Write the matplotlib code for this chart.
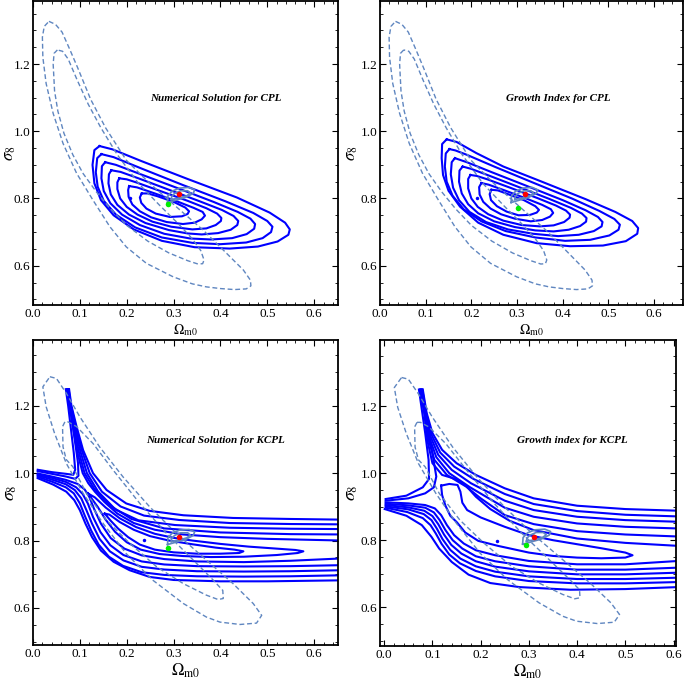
import matplotlib.pyplot as plt
from matplotlib.ticker import MultipleLocator, FormatStrFormatter

# ---------------- data ----------------
# observational contours (dashed), top row (CPL panels)
obs_cpl_outer = [(0.034, 1.327), (0.048, 1.318), (0.062, 1.295), (0.078, 1.245), (0.095, 1.190),
                 (0.123, 1.095), (0.155, 1.010), (0.199, 0.914), (0.249, 0.845), (0.306, 0.775),
                 (0.363, 0.706), (0.413, 0.637), (0.449, 0.587), (0.464, 0.557), (0.465, 0.540),
                 (0.455, 0.531), (0.430, 0.529), (0.400, 0.532), (0.370, 0.537), (0.340, 0.546),
                 (0.299, 0.567), (0.242, 0.607), (0.199, 0.656), (0.164, 0.716), (0.128, 0.795),
                 (0.093, 0.875), (0.064, 0.964), (0.043, 1.053), (0.028, 1.142), (0.021, 1.220),
                 (0.020, 1.280), (0.024, 1.312)]
obs_cpl_inner = [(0.052, 1.242), (0.045, 1.232), (0.043, 1.200), (0.046, 1.120), (0.053, 1.060),
                 (0.066, 0.994), (0.085, 0.930), (0.107, 0.874), (0.135, 0.820), (0.165, 0.770),
                 (0.200, 0.720), (0.245, 0.673), (0.290, 0.638), (0.330, 0.615), (0.352, 0.605),
                 (0.362, 0.606), (0.365, 0.617), (0.358, 0.645), (0.340, 0.680), (0.310, 0.725),
                 (0.270, 0.780), (0.225, 0.845), (0.180, 0.930), (0.145, 1.010), (0.118, 1.080),
                 (0.095, 1.150), (0.075, 1.215), (0.063, 1.238)]
# observational contours (dashed), bottom row (KCPL panels)
obs_kcpl_outer = [(0.036, 1.286), (0.050, 1.281), (0.071, 1.237), (0.100, 1.167), (0.142, 1.078),
                  (0.192, 0.989), (0.249, 0.900), (0.306, 0.821), (0.370, 0.742), (0.427, 0.672),
                  (0.470, 0.613), (0.488, 0.578), (0.477, 0.555), (0.442, 0.551), (0.399, 0.558),
                  (0.370, 0.573), (0.321, 0.613), (0.256, 0.682), (0.199, 0.761), (0.150, 0.850),
                  (0.107, 0.940), (0.071, 1.029), (0.046, 1.118), (0.028, 1.197), (0.021, 1.256)]
obs_kcpl_inner = [(0.068, 1.152), (0.063, 1.138), (0.064, 1.078), (0.071, 1.040), (0.085, 1.019),
                  (0.114, 0.940), (0.157, 0.860), (0.207, 0.791), (0.264, 0.722), (0.321, 0.672),
                  (0.370, 0.638), (0.395, 0.625), (0.406, 0.628), (0.405, 0.652), (0.385, 0.682),
                  (0.342, 0.742), (0.285, 0.821), (0.228, 0.910), (0.171, 1.009), (0.128, 1.088),
                  (0.093, 1.138), (0.075, 1.152)]

# small solid contours around the red point
loop_outer = [(0.287, 0.788), (0.305, 0.795), (0.325, 0.803), (0.342, 0.815), (0.345, 0.826),
              (0.333, 0.833), (0.313, 0.831), (0.297, 0.822), (0.288, 0.808)]
loop_inner = [(0.295, 0.797), (0.310, 0.801), (0.328, 0.808), (0.336, 0.816), (0.330, 0.823),
              (0.315, 0.823), (0.302, 0.815), (0.296, 0.806)]

# numerical solution, CPL (closed contours, outer -> inner)
num_cpl = [
    [(0.142, 0.956), (0.131, 0.944), (0.127, 0.900), (0.131, 0.845), (0.145, 0.795), (0.172, 0.750),
     (0.215, 0.708), (0.275, 0.674), (0.345, 0.655), (0.420, 0.651), (0.480, 0.657), (0.522, 0.672),
     (0.545, 0.692), (0.548, 0.708), (0.538, 0.728), (0.505, 0.758), (0.435, 0.803), (0.330, 0.858),
     (0.230, 0.912), (0.170, 0.946)],
    [(0.146, 0.932), (0.137, 0.920), (0.134, 0.878), (0.138, 0.835), (0.151, 0.793), (0.177, 0.752),
     (0.218, 0.714), (0.275, 0.684), (0.340, 0.668), (0.400, 0.664), (0.455, 0.669), (0.490, 0.682),
     (0.508, 0.700), (0.511, 0.716), (0.500, 0.733), (0.470, 0.757), (0.410, 0.792), (0.320, 0.840),
     (0.230, 0.890), (0.172, 0.923)],
    [(0.154, 0.908), (0.147, 0.896), (0.146, 0.860), (0.151, 0.822), (0.165, 0.786), (0.190, 0.752),
     (0.228, 0.721), (0.280, 0.695), (0.335, 0.681), (0.380, 0.678), (0.425, 0.682), (0.456, 0.694),
     (0.472, 0.710), (0.474, 0.724), (0.464, 0.740), (0.437, 0.760), (0.385, 0.790), (0.310, 0.830),
     (0.230, 0.872), (0.177, 0.900)],
    [(0.167, 0.884), (0.162, 0.872), (0.161, 0.845), (0.166, 0.812), (0.180, 0.781), (0.205, 0.752),
     (0.240, 0.727), (0.290, 0.706), (0.330, 0.696), (0.360, 0.693), (0.395, 0.697), (0.422, 0.707),
     (0.436, 0.721), (0.438, 0.733), (0.428, 0.748), (0.403, 0.766), (0.355, 0.792), (0.290, 0.826),
     (0.225, 0.860), (0.187, 0.879)],
    [(0.184, 0.860), (0.180, 0.848), (0.180, 0.828), (0.186, 0.800), (0.200, 0.775), (0.223, 0.752),
     (0.255, 0.731), (0.295, 0.716), (0.340, 0.708), (0.370, 0.711), (0.390, 0.721), (0.401, 0.733),
     (0.402, 0.742), (0.393, 0.755), (0.370, 0.771), (0.330, 0.793), (0.270, 0.823), (0.220, 0.848),
     (0.200, 0.857)],
    [(0.205, 0.837), (0.203, 0.825), (0.204, 0.805), (0.212, 0.782), (0.228, 0.762), (0.252, 0.744),
     (0.285, 0.730), (0.320, 0.724), (0.345, 0.728), (0.360, 0.738), (0.367, 0.749), (0.362, 0.760),
     (0.343, 0.772), (0.310, 0.790), (0.260, 0.815), (0.222, 0.833)],
    [(0.232, 0.815), (0.228, 0.803), (0.231, 0.787), (0.242, 0.770), (0.262, 0.755), (0.292, 0.745),
     (0.318, 0.747), (0.330, 0.754), (0.333, 0.762), (0.325, 0.773), (0.300, 0.790), (0.265, 0.807),
     (0.245, 0.815)],
]

# growth index, CPL
gi_cpl = [
    [(0.146, 0.976), (0.136, 0.962), (0.135, 0.920), (0.138, 0.870), (0.150, 0.823), (0.175, 0.776),
     (0.215, 0.728), (0.270, 0.692), (0.343, 0.667), (0.416, 0.658), (0.488, 0.660), (0.538, 0.673),
     (0.563, 0.695), (0.565, 0.712), (0.552, 0.733), (0.515, 0.760), (0.450, 0.798), (0.343, 0.856),
     (0.270, 0.895), (0.211, 0.935), (0.168, 0.968)],
    [(0.152, 0.947), (0.144, 0.934), (0.142, 0.895), (0.146, 0.850), (0.159, 0.808), (0.183, 0.768),
     (0.222, 0.732), (0.275, 0.703), (0.340, 0.684), (0.405, 0.674), (0.460, 0.677), (0.502, 0.690),
     (0.522, 0.707), (0.525, 0.722), (0.513, 0.739), (0.480, 0.763), (0.420, 0.800), (0.330, 0.850),
     (0.250, 0.895), (0.190, 0.930), (0.165, 0.943)],
    [(0.164, 0.920), (0.157, 0.908), (0.155, 0.872), (0.160, 0.832), (0.173, 0.795), (0.196, 0.760),
     (0.232, 0.730), (0.280, 0.708), (0.335, 0.695), (0.390, 0.688), (0.435, 0.692), (0.468, 0.703),
     (0.485, 0.717), (0.487, 0.730), (0.477, 0.745), (0.450, 0.765), (0.400, 0.795), (0.320, 0.838),
     (0.245, 0.878), (0.190, 0.908)],
    [(0.181, 0.895), (0.174, 0.883), (0.173, 0.850), (0.179, 0.815), (0.193, 0.783), (0.215, 0.756),
     (0.250, 0.732), (0.295, 0.715), (0.340, 0.705), (0.380, 0.702), (0.413, 0.707), (0.438, 0.718),
     (0.451, 0.731), (0.452, 0.742), (0.442, 0.755), (0.418, 0.772), (0.370, 0.799), (0.300, 0.836),
     (0.235, 0.870), (0.200, 0.888)],
    [(0.198, 0.870), (0.193, 0.858), (0.193, 0.830), (0.200, 0.800), (0.214, 0.775), (0.237, 0.753),
     (0.270, 0.734), (0.310, 0.721), (0.350, 0.717), (0.380, 0.720), (0.403, 0.730), (0.415, 0.743),
     (0.416, 0.752), (0.407, 0.764), (0.385, 0.779), (0.345, 0.801), (0.285, 0.832), (0.235, 0.857),
     (0.212, 0.867)],
    [(0.222, 0.846), (0.217, 0.834), (0.218, 0.812), (0.226, 0.790), (0.242, 0.770), (0.265, 0.753),
     (0.295, 0.740), (0.330, 0.732), (0.355, 0.736), (0.372, 0.746), (0.379, 0.757), (0.374, 0.768),
     (0.355, 0.781), (0.320, 0.800), (0.275, 0.823), (0.238, 0.841)],
    [(0.244, 0.826), (0.240, 0.813), (0.243, 0.795), (0.256, 0.777), (0.277, 0.761), (0.303, 0.750),
     (0.328, 0.751), (0.343, 0.758), (0.348, 0.766), (0.340, 0.777), (0.315, 0.795), (0.280, 0.813),
     (0.258, 0.824)],
]

# numerical solution, KCPL (open curves)
num_kcpl_open = [
    # from the top pinch, bending right
    [(0.077, 1.249), (0.082, 1.200), (0.093, 1.138), (0.107, 1.068), (0.128, 1.000), (0.157, 0.950),
     (0.199, 0.910), (0.249, 0.888), (0.321, 0.875), (0.427, 0.867), (0.550, 0.864), (0.660, 0.862)],
    [(0.076, 1.249), (0.081, 1.200), (0.091, 1.138), (0.104, 1.068), (0.121, 1.000), (0.147, 0.945),
     (0.187, 0.901), (0.237, 0.874), (0.312, 0.861), (0.420, 0.852), (0.550, 0.849), (0.660, 0.848)],
    [(0.075, 1.249), (0.080, 1.200), (0.089, 1.138), (0.101, 1.065), (0.115, 1.000), (0.139, 0.945),
     (0.176, 0.892), (0.225, 0.860), (0.303, 0.846), (0.420, 0.838), (0.550, 0.835), (0.660, 0.834)],
    [(0.074, 1.249), (0.079, 1.200), (0.087, 1.138), (0.098, 1.062), (0.110, 1.000), (0.130, 0.955),
     (0.163, 0.905), (0.210, 0.864), (0.280, 0.836), (0.400, 0.824), (0.550, 0.819), (0.660, 0.818)],
    [(0.073, 1.249), (0.078, 1.200), (0.085, 1.138), (0.095, 1.060), (0.106, 1.000), (0.118, 0.970),
     (0.132, 0.945), (0.152, 0.915), (0.180, 0.880), (0.215, 0.852), (0.260, 0.832), (0.320, 0.818),
     (0.400, 0.810), (0.500, 0.805), (0.660, 0.800)],
    # from the left fan, up into the pinch
    [(0.010, 1.010), (0.040, 1.003), (0.070, 0.998), (0.086, 0.995), (0.090, 1.010), (0.087, 1.060),
     (0.081, 1.130), (0.075, 1.200), (0.070, 1.249)],
    [(0.010, 1.006), (0.040, 0.998), (0.070, 0.990), (0.090, 0.983), (0.097, 0.992), (0.096, 1.030),
     (0.089, 1.100), (0.080, 1.190), (0.072, 1.249)],
    # from the left fan, down and right
    [(0.010, 0.999), (0.040, 0.990), (0.070, 0.980), (0.095, 0.968), (0.110, 0.952), (0.120, 0.930),
     (0.130, 0.895), (0.145, 0.850), (0.166, 0.807), (0.195, 0.776), (0.232, 0.756), (0.280, 0.745),
     (0.350, 0.738), (0.450, 0.736), (0.550, 0.740), (0.660, 0.747)],
    [(0.010, 0.996), (0.040, 0.986), (0.070, 0.974), (0.092, 0.958), (0.106, 0.938), (0.117, 0.910),
     (0.128, 0.870), (0.144, 0.825), (0.165, 0.786), (0.193, 0.757), (0.232, 0.738), (0.280, 0.729),
     (0.350, 0.724), (0.450, 0.723), (0.550, 0.724), (0.660, 0.727)],
    [(0.010, 0.993), (0.040, 0.981), (0.070, 0.967), (0.089, 0.950), (0.103, 0.925), (0.114, 0.890),
     (0.126, 0.850), (0.142, 0.805), (0.164, 0.768), (0.193, 0.741), (0.232, 0.722), (0.280, 0.714),
     (0.350, 0.709), (0.450, 0.708), (0.550, 0.709), (0.660, 0.712)],
    [(0.010, 0.989), (0.040, 0.975), (0.070, 0.958), (0.087, 0.940), (0.100, 0.910), (0.111, 0.872),
     (0.124, 0.830), (0.140, 0.788), (0.162, 0.752), (0.192, 0.725), (0.232, 0.706), (0.280, 0.698),
     (0.350, 0.694), (0.450, 0.693), (0.550, 0.694), (0.660, 0.697)],
    [(0.010, 0.985), (0.043, 0.966), (0.071, 0.945), (0.088, 0.920), (0.100, 0.890), (0.112, 0.850),
     (0.126, 0.810), (0.145, 0.770), (0.172, 0.737), (0.206, 0.712), (0.249, 0.692), (0.300, 0.683),
     (0.400, 0.679), (0.500, 0.679), (0.660, 0.682)],
]
num_kcpl_closed = [
    [(0.117, 0.940), (0.132, 0.928), (0.155, 0.898), (0.185, 0.866), (0.220, 0.840), (0.260, 0.820),
     (0.300, 0.808), (0.340, 0.800), (0.400, 0.790), (0.460, 0.782), (0.520, 0.776), (0.560, 0.772),
     (0.577, 0.768), (0.565, 0.763), (0.520, 0.757), (0.450, 0.752), (0.380, 0.751), (0.320, 0.754),
     (0.270, 0.760), (0.230, 0.773), (0.200, 0.795), (0.175, 0.826), (0.155, 0.862), (0.138, 0.900),
     (0.125, 0.925)],
    [(0.153, 0.880), (0.163, 0.877), (0.185, 0.855), (0.215, 0.832), (0.250, 0.813), (0.290, 0.800),
     (0.340, 0.789), (0.390, 0.779), (0.430, 0.773), (0.449, 0.768), (0.440, 0.763), (0.400, 0.761),
     (0.350, 0.761), (0.300, 0.765), (0.260, 0.773), (0.228, 0.788), (0.203, 0.810), (0.182, 0.835),
     (0.165, 0.860)],
]

# growth index, KCPL
gi_kcpl_open = [
    [(0.080, 1.250), (0.088, 1.180), (0.100, 1.120), (0.120, 1.070), (0.150, 1.030), (0.190, 0.995),
     (0.250, 0.955), (0.310, 0.925), (0.400, 0.903), (0.500, 0.893), (0.610, 0.888)],
    [(0.079, 1.250), (0.087, 1.180), (0.098, 1.115), (0.116, 1.062), (0.145, 1.020), (0.185, 0.983),
     (0.250, 0.938), (0.310, 0.908), (0.400, 0.887), (0.500, 0.876), (0.610, 0.871)],
    [(0.078, 1.250), (0.086, 1.180), (0.096, 1.110), (0.112, 1.055), (0.140, 1.010), (0.180, 0.970),
     (0.250, 0.918), (0.310, 0.890), (0.400, 0.870), (0.500, 0.860), (0.610, 0.855)],
    [(0.077, 1.250), (0.085, 1.180), (0.094, 1.105), (0.108, 1.048), (0.135, 1.000), (0.178, 0.958),
     (0.250, 0.897), (0.310, 0.870), (0.400, 0.850), (0.500, 0.840), (0.610, 0.835)],
    [(0.076, 1.250), (0.084, 1.180), (0.092, 1.100), (0.104, 1.040), (0.130, 0.995), (0.170, 0.960),
     (0.200, 0.925), (0.250, 0.875), (0.310, 0.848), (0.400, 0.827), (0.500, 0.817), (0.610, 0.811)],
    [(0.075, 1.250), (0.083, 1.180), (0.090, 1.095), (0.100, 1.030), (0.120, 0.995), (0.150, 0.982),
     (0.170, 0.962), (0.190, 0.930), (0.220, 0.893), (0.260, 0.858), (0.310, 0.830), (0.400, 0.805),
     (0.500, 0.792), (0.610, 0.783)],
    [(0.003, 0.923), (0.046, 0.933), (0.080, 0.958), (0.093, 0.983), (0.092, 1.040), (0.085, 1.120),
     (0.072, 1.250)],
    [(0.003, 0.918), (0.050, 0.925), (0.085, 0.940), (0.103, 0.958), (0.108, 0.990), (0.100, 1.060),
     (0.088, 1.150), (0.074, 1.250)],
    [(0.003, 0.913), (0.050, 0.910), (0.085, 0.905), (0.105, 0.895), (0.118, 0.875), (0.130, 0.845),
     (0.145, 0.815), (0.165, 0.790), (0.190, 0.770), (0.230, 0.755), (0.300, 0.738), (0.400, 0.728),
     (0.500, 0.728), (0.610, 0.738)],
    [(0.003, 0.909), (0.050, 0.904), (0.085, 0.897), (0.103, 0.883), (0.115, 0.860), (0.127, 0.830),
     (0.142, 0.800), (0.162, 0.775), (0.190, 0.752), (0.230, 0.737), (0.300, 0.722), (0.400, 0.712),
     (0.500, 0.712), (0.610, 0.718)],
    [(0.003, 0.905), (0.050, 0.898), (0.083, 0.888), (0.100, 0.872), (0.112, 0.848), (0.124, 0.817),
     (0.139, 0.786), (0.160, 0.760), (0.190, 0.737), (0.230, 0.721), (0.300, 0.707), (0.400, 0.698),
     (0.500, 0.698), (0.610, 0.703)],
    [(0.003, 0.901), (0.050, 0.892), (0.082, 0.878), (0.098, 0.860), (0.109, 0.835), (0.121, 0.803),
     (0.137, 0.771), (0.158, 0.745), (0.190, 0.722), (0.230, 0.706), (0.300, 0.692), (0.400, 0.684),
     (0.500, 0.684), (0.610, 0.688)],
    [(0.003, 0.897), (0.048, 0.884), (0.080, 0.866), (0.096, 0.845), (0.107, 0.820), (0.119, 0.789),
     (0.135, 0.757), (0.157, 0.731), (0.190, 0.708), (0.230, 0.692), (0.300, 0.678), (0.400, 0.671),
     (0.500, 0.671), (0.610, 0.675)],
    [(0.001, 0.893), (0.046, 0.873), (0.078, 0.845), (0.098, 0.810), (0.114, 0.775), (0.140, 0.735),
     (0.175, 0.697), (0.220, 0.672), (0.280, 0.660), (0.386, 0.652), (0.500, 0.654), (0.610, 0.660)],
]
gi_kcpl_closed = [
    [(0.118, 0.963), (0.135, 0.968), (0.152, 0.965), (0.158, 0.945), (0.162, 0.912), (0.172, 0.890),
     (0.200, 0.868), (0.250, 0.840), (0.300, 0.815), (0.350, 0.800), (0.400, 0.788), (0.450, 0.776),
     (0.500, 0.763), (0.515, 0.755), (0.500, 0.748), (0.450, 0.746), (0.400, 0.748), (0.350, 0.753),
     (0.300, 0.763), (0.236, 0.783), (0.195, 0.798), (0.168, 0.823), (0.151, 0.853), (0.137, 0.873),
     (0.127, 0.903), (0.120, 0.935)],
]

# marked points: blue (model best fit), green, red
blue_pts = [(0.207, 0.800), (0.212, 0.800), (0.237, 0.801), (0.234, 0.799)]
green_pts = [(0.288, 0.785), (0.301, 0.772), (0.289, 0.777), (0.295, 0.785)]
red_pts = [(0.311, 0.812), (0.317, 0.813), (0.311, 0.811), (0.310, 0.811)]

titles = ['Numerical Solution for CPL', 'Growth Index for CPL',
          'Numerical Solution for KCPL', 'Growth index for KCPL']
xlims = [(0, 0.651), (0, 0.663), (0, 0.651), (-0.0088, 0.605)]
ylims = [(0.483, 1.3875), (0.483, 1.3875), (0.490, 1.395), (0.484, 1.398)]

# ---------------- drawing ----------------
plt.rcParams['font.family'] = 'Liberation Serif'
plt.rcParams['mathtext.fontset'] = 'stix'

BLUE = '#0000ff'
STEEL = '#5f86c0'

fig = plt.figure(figsize=(6.85, 6.83), dpi=100)
rects = [[0.0482, 0.5534, 0.4453, 0.4451], [0.5547, 0.5534, 0.4423, 0.4451],
         [0.0482, 0.0556, 0.4453, 0.4466], [0.5547, 0.0542, 0.4321, 0.4480]]
ylabel_x = [-0.075, -0.092, -0.075, -0.095]


def line(ax, pts, closed=False, **kw):
    xs = [p[0] for p in pts]
    ys = [p[1] for p in pts]
    if closed:
        xs.append(xs[0])
        ys.append(ys[0])
    ax.plot(xs, ys, **kw)


panels = [
    (num_cpl, [], obs_cpl_outer, obs_cpl_inner),
    (gi_cpl, [], obs_cpl_outer, obs_cpl_inner),
    (num_kcpl_closed, num_kcpl_open, obs_kcpl_outer, obs_kcpl_inner),
    (gi_kcpl_closed, gi_kcpl_open, obs_kcpl_outer, obs_kcpl_inner),
]

for i, (closed, opened, d_out, d_in) in enumerate(panels):
    ax = fig.add_axes(rects[i])
    for c in closed:
        line(ax, c, True, color=BLUE, lw=1.5, solid_joinstyle='round')
    for c in opened:
        line(ax, c, False, color=BLUE, lw=1.5, solid_joinstyle='round')
    for c in (d_out, d_in):
        line(ax, c, True, color=STEEL, lw=1.0, dashes=(3.5, 2))
    line(ax, loop_outer, True, color=STEEL, lw=1.2)
    line(ax, loop_inner, True, color=STEEL, lw=1.2)
    ax.plot(*blue_pts[i], 'o', color=BLUE, ms=2.5, mec='none')
    ax.plot(*green_pts[i], 'o', color='#00ee00', ms=4, mec='none')
    ax.plot(*red_pts[i], 'o', color='#ff0000', ms=4, mec='none')

    ax.text(0.39, 1.098, titles[i], ha='center', va='center', fontsize=8,
            fontweight='bold', fontstyle='italic')

    ax.set_xlim(*xlims[i])
    ax.set_ylim(*ylims[i])
    ax.xaxis.set_major_locator(MultipleLocator(0.1))
    ax.xaxis.set_minor_locator(MultipleLocator(0.02))
    ax.yaxis.set_major_locator(MultipleLocator(0.2))
    ax.yaxis.set_minor_locator(MultipleLocator(0.05))
    ax.xaxis.set_major_formatter(FormatStrFormatter('%.1f'))
    ax.yaxis.set_major_formatter(FormatStrFormatter('%.1f'))
    ax.tick_params(which='both', direction='in', top=True, right=True, labelsize=9.5, pad=2)
    ax.tick_params(which='major', length=4.5, width=0.8)
    ax.tick_params(which='minor', length=2.5, width=0.6)
    for s in ax.spines.values():
        s.set_linewidth(1.3)

    if i < 2:
        ax.set_xlabel(r'$\Omega_{\rm m0}$', fontsize=10, labelpad=2)
        ax.set_ylabel(r'$\sigma_8$', fontsize=12, va='center')
    else:
        ax.set_xlabel(r'$\Omega_{\rm m0}$', fontsize=12, labelpad=1)
        ax.set_ylabel(r'$\sigma_8$', fontsize=13, va='center')
    ax.yaxis.set_label_coords(ylabel_x[i], 0.5)

fig.savefig('out.png', dpi=100)
